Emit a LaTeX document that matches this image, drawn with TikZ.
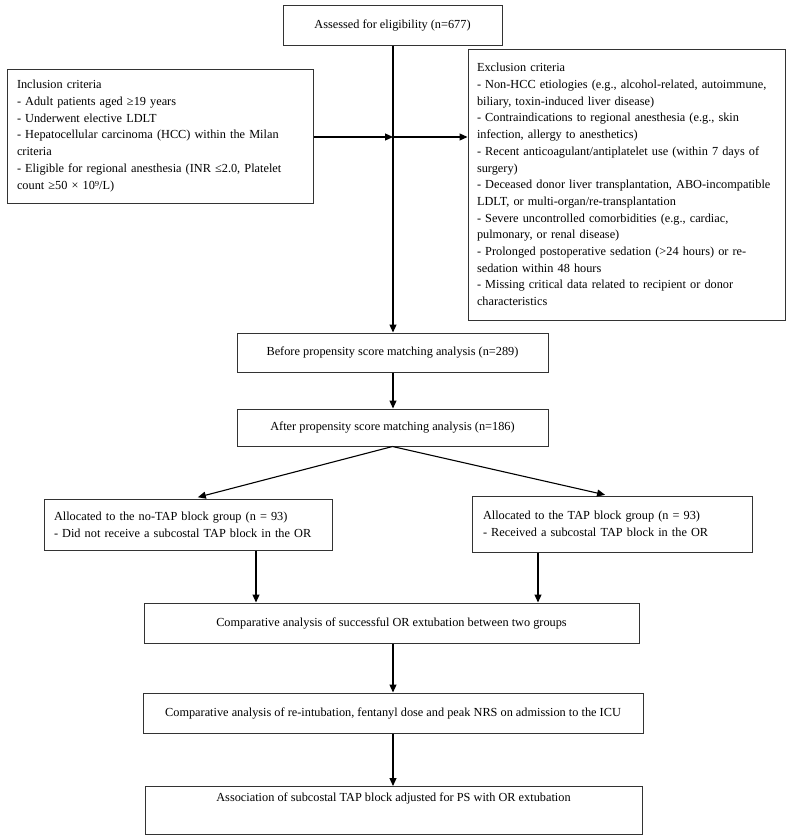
\documentclass[tikz,border=0pt]{standalone}
\usepackage{fontspec}
\setmainfont{Liberation Serif}
\usetikzlibrary{arrows.meta,calc}
\newcommand{\li}[1]{\mbox{#1}}
\begin{document}
\begin{tikzpicture}[x=1pt,y=-1pt,
  every node/.style={font=\fontsize{12.3}{16.7}\selectfont},
  box/.style={draw=black!80,line width=1pt,inner sep=0pt,minimum width=#1},
  lbox/.style={draw=black!80,line width=1pt,inner ysep=0pt,inner xsep=10pt,align=left},
  arr/.style={line width=1.1pt,-{Triangle[length=8pt,width=7pt]}}]
\useasboundingbox (0,0) rectangle (791,836);
\node[box=219,minimum height=40] (assess) at (392.5,25) {Assessed for eligibility (n=677)};
\node[lbox,text width=286,minimum height=134] (incl) at (160,136) {%
\li{Inclusion criteria}\\
\li{- Adult patients aged ≥19 years}\\
\li{- Underwent elective LDLT}\\
\li{- Hepatocellular carcinoma (HCC) within the Milan}\\
\li{criteria}\\
\li{- Eligible for regional anesthesia (INR ≤2.0, Platelet}\\
\li{count ≥50 × 10⁹/L)}};
\node[lbox,inner xsep=9pt,text width=299,minimum height=271] (excl) at (626.5,184.5) {%
\li{Exclusion criteria}\\
\li{- Non-HCC etiologies (e.g., alcohol-related, autoimmune,}\\
\li{biliary, toxin-induced liver disease)}\\
\li{- Contraindications to regional anesthesia (e.g., skin}\\
\li{infection, allergy to anesthetics)}\\
\li{- Recent anticoagulant/antiplatelet use (within 7 days of}\\
\li{surgery)}\\
\li{- Deceased donor liver transplantation, ABO-incompatible}\\
\li{LDLT, or multi-organ/re-transplantation}\\
\li{- Severe uncontrolled comorbidities (e.g., cardiac,}\\
\li{pulmonary, or renal disease)}\\
\li{- Prolonged postoperative sedation (>24 hours) or re-}\\
\li{sedation within 48 hours}\\
\li{- Missing critical data related to recipient or donor}\\
\li{characteristics}};
\node[box=311,minimum height=39] (before) at (392.5,352.5) {Before propensity score matching analysis (n=289)};
\node[box=311,minimum height=37] (after) at (392.5,427.5) {After propensity score matching analysis (n=186)};
\node[lbox,text width=268,minimum height=51] (nl) at (188,524.5) {%
\li{Allocated to the no-TAP block group (n = 93)}\\
\li{- Did not receive a subcostal TAP block in the OR}};
\node[lbox,inner xsep=11pt,text width=258,minimum height=56] (nr) at (612,524) {%
\li{Allocated to the TAP block group (n = 93)}\\
\li{- Received a subcostal TAP block in the OR}};
\node[box=495,minimum height=40] (comp) at (391.5,623) {Comparative analysis of successful OR extubation between two groups};
\node[box=500,minimum height=40] (reint) at (393,713) {Comparative analysis of re-intubation, fentanyl dose and peak NRS on admission to the ICU};
\node[box=497,anchor=north,text height=15pt,text depth=33pt,inner ysep=0pt] (assoc) at (393.5,786) {Association of subcostal TAP block adjusted for PS with OR extubation};
\coordinate (j) at (393,137);
\draw[arr] (assess.south -| j) -- (before.north -| j);
\draw[arr] (incl.east |- j) -- (j);
\draw[arr] (j) -- (excl.west |- j);
\draw[arr] (before.south -| j) -- (after.north -| j);
\draw[arr,shorten >=5pt] (after.south) -- ($(nl.north)+(5,0)$);
\draw[arr,shorten >=3pt] (after.south) -- ($(nr.north)+(-4,0)$);
\draw[arr] (nl.south -| 256,0) -- (comp.north -| 256,0);
\draw[arr] (nr.south -| 538,0) -- (comp.north -| 538,0);
\draw[arr] (comp.south -| j) -- (reint.north -| j);
\draw[arr] (reint.south -| j) -- (assoc.north -| j);
\end{tikzpicture}
\end{document}
